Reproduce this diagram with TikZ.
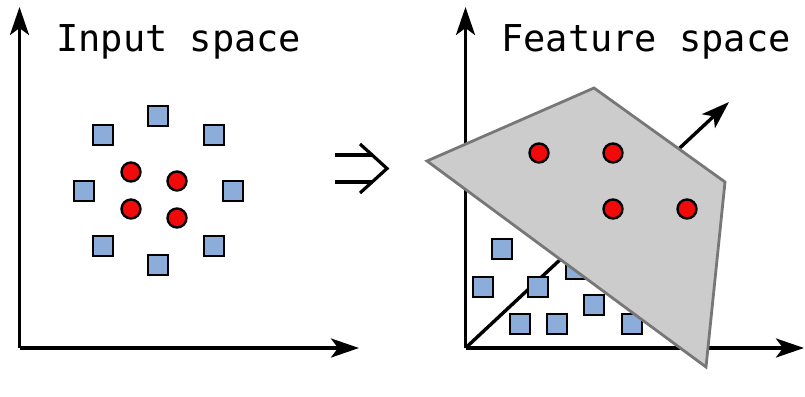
\documentclass[tikz,border=0pt]{standalone}
\usepackage{fontspec}
\setmonofont{DejaVu Sans Mono}
\usetikzlibrary{arrows.meta}
\definecolor{sqblue}{HTML}{8CACDA}
\definecolor{dotred}{HTML}{F00A0A}
\definecolor{planegray}{HTML}{CCCCCC}
\definecolor{planeedge}{HTML}{777777}
\tikzset{
  axis/.style={line width=3.4pt, -{Stealth[length=28pt, width=19pt, inset=7pt]}},
  sq/.style={rectangle, draw=black, fill=sqblue, line width=2.8pt, minimum size=20pt, inner sep=0pt},
  dot/.style={circle, draw=black, fill=dotred, line width=2.4pt, minimum size=19pt, inner sep=0pt},
  plane/.style={fill=planegray, draw=planeedge, line width=2.8pt, line join=miter},
  title/.style={font=\ttfamily\fontsize{37}{40}\selectfont, anchor=base west, inner sep=0pt},
  implies/.style={line width=3.2pt}
}
\begin{document}
\begin{tikzpicture}[x=1pt, y=-1pt]
  \useasboundingbox (0,0) rectangle (805,396);

  % ---------- left panel ----------
  \coordinate (oL) at (19.5,348);
  \coordinate (yL) at (19.5,7);
  \coordinate (xL) at (359,348);
  \draw[axis] (oL) -- (yL);
  \draw[axis] (oL) -- (xL);
  \node[title] (tL) at (56,52) {Input space};

  \foreach \n/\p in {s1/{(158,116)}, s2/{(103,135)}, s3/{(214,135)}, s4/{(84,191)},
                     s5/{(233,191)}, s6/{(103,246)}, s7/{(214,246)}, s8/{(158,265)}}
    \node[sq] (\n) at \p {};
  \foreach \n/\p in {c1/{(131,172)}, c2/{(177,181)}, c3/{(131,209)}, c4/{(177,218)}}
    \node[dot] (\n) at \p {};

  % ---------- mapping symbol ----------
  \coordinate (iTop) at (360,144);
  \coordinate (iTip) at (387,168.5);
  \coordinate (iBot) at (360,193);
  \coordinate (iA) at (335,155);
  \coordinate (iB) at (373,155);
  \coordinate (iC) at (335,182);
  \coordinate (iD) at (373,182);
  \draw[implies] (iA) -- (iB);
  \draw[implies] (iC) -- (iD);
  \draw[implies, line join=miter] (iTop) -- (iTip) -- (iBot);

  % ---------- right panel ----------
  \coordinate (oR) at (465.5,348);
  \coordinate (yR) at (465.5,7);
  \coordinate (xR) at (804,348);
  \coordinate (dR) at (729,102);
  \draw[axis] (oR) -- (yR);
  \draw[axis] (oR) -- (xR);
  \draw[axis] (oR) -- (dR);
  \node[title] (tR) at (501,52) {Feature space};

  \foreach \n/\p in {r1/{(502,249)}, r2/{(483,287)}, r3/{(538,287)}, r4/{(576,269)},
                     r5/{(594,305)}, r6/{(520,324)}, r7/{(557,324)}, r8/{(632,324)}}
    \node[sq] (\n) at \p {};

  % separating plane
  \coordinate (p1) at (427,161);
  \coordinate (p2) at (594,88);
  \coordinate (p3) at (725,182);
  \coordinate (p4) at (706,367);
  \filldraw[plane] (p1) -- (p2) -- (p3) -- (p4) -- cycle;

  \foreach \n/\p in {d1/{(539,153)}, d2/{(613,153)}, d3/{(613,209)}, d4/{(687,209)}}
    \node[dot] (\n) at \p {};
\end{tikzpicture}
\end{document}
